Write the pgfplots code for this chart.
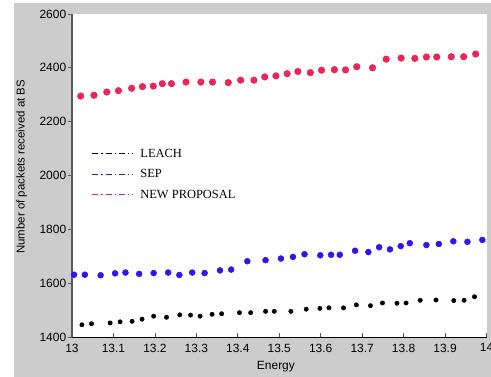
\documentclass[border=0pt]{standalone}
\usepackage{pgfplots}
\pgfplotsset{compat=1.18}
\usepackage{fontspec}
\setmainfont{Liberation Sans}
\newfontfamily\legendfont{Liberation Serif}
\definecolor{figgray}{RGB}{204,204,204}
\definecolor{redc}{RGB}{250,35,75}
\definecolor{bluec}{RGB}{55,15,240}
\definecolor{axgray}{RGB}{90,90,90}

\pgfplotstableread{
x y
13.021 2295
13.053 2298
13.084 2310
13.112 2315
13.144 2324
13.170 2330
13.196 2332
13.218 2341
13.240 2341
13.275 2347
13.311 2347
13.339 2347
13.377 2345
13.407 2354
13.439 2354
13.465 2366
13.492 2370
13.519 2378
13.545 2386
13.575 2382
13.602 2391
13.633 2393
13.660 2392
13.687 2404
13.725 2400
13.758 2432
13.794 2436
13.827 2435
13.855 2440
13.880 2440
13.915 2441
13.945 2441
13.974 2451
}\newprop

\pgfplotstableread{
x y
13.005 1632
13.031 1632
13.069 1630
13.104 1637
13.129 1640
13.162 1635
13.197 1638
13.232 1640
13.259 1631
13.290 1640
13.320 1638
13.357 1648
13.384 1651
13.423 1682
13.467 1686
13.504 1692
13.533 1698
13.561 1708
13.599 1704
13.625 1706
13.646 1706
13.683 1721
13.715 1716
13.741 1734
13.767 1726
13.793 1738
13.815 1749
13.855 1742
13.885 1746
13.920 1756
13.954 1754
13.990 1761
}\sep

\pgfplotstableread{
x y
13.024 1446
13.047 1450
13.092 1453
13.116 1457
13.145 1459
13.169 1467
13.197 1478
13.228 1474
13.260 1483
13.286 1482
13.309 1478
13.338 1485
13.361 1487
13.404 1491
13.431 1491
13.467 1496
13.488 1496
13.528 1496
13.565 1504
13.598 1507
13.620 1509
13.655 1509
13.686 1520
13.720 1517
13.749 1527
13.784 1526
13.806 1527
13.840 1537
13.878 1538
13.921 1536
13.946 1537
13.971 1550
}\leach

\begin{document}
\begin{tikzpicture}
\useasboundingbox (-72bp,-39.8bp) rectangle (419bp,337.2bp);
\clip (-72bp,-39.8bp) rectangle (419bp,337.2bp);
\fill[white] (-72bp,-39.8bp) rectangle (419bp,337.2bp);
\fill[figgray] (-58bp,-39.8bp) rectangle (419bp,334.2bp);
\begin{axis}[
  at={(0,0)}, anchor=south west,
  width=414.5bp, height=323.3bp, scale only axis,
  xmin=13, xmax=14, ymin=1400, ymax=2600,
  xtick={13,13.1,13.2,13.3,13.4,13.5,13.6,13.7,13.8,13.9,14},
  ytick={1400,1600,1800,2000,2200,2400,2600},
  axis x line*=bottom, axis y line*=left,
  x axis line style={black, line width=0.9bp},
  y axis line style={axgray, line width=1.3bp},
  axis background/.style={fill=white},
  tick align=inside, major tick length=4bp,
  tick style={axgray, line width=0.7bp},
  ytick style={xshift=-4bp},
  tick label style={font=\fontsize{12}{14}\selectfont},
  yticklabel style={xshift=-2.3bp},
  xticklabel style={yshift=-3bp},
  /pgf/number format/assume math mode=true,
  /pgf/number format/1000 sep={},
  xlabel={Energy},
  xlabel style={at={(axis description cs:0.492,0)}, anchor=base, yshift=-32bp, font=\fontsize{12}{14}\selectfont},
  ylabel={Number of packets received at BS},
  ylabel style={at={(axis description cs:-0.1213,0.527)}, anchor=center, font=\fontsize{11.5}{14}\selectfont},
  legend image code/.code={\draw[#1] (0bp,0bp) -- (40bp,0bp);},
  legend cell align=left,
  legend style={draw=none, fill=none, inner sep=0pt,
    at={(axis description cs:0.048,0.504)}, anchor=west,
    font=\legendfont\fontsize{12.5}{14}\selectfont,
    row sep=6bp,
    /tikz/every odd column/.style={column sep=6bp},
    nodes={inner sep=1.5bp, text height=9bp, text depth=2.5bp}},
]
\addlegendimage{black, line width=0.8bp, dash pattern=on 6bp off 3bp on 1.2bp off 3bp}
\addlegendentry{LEACH}
\addlegendimage{bluec, line width=0.8bp, dash pattern=on 6bp off 3bp on 1.2bp off 3bp}
\addlegendentry{SEP}
\addlegendimage{redc, line width=0.8bp, dash pattern=on 6bp off 3bp on 1.2bp off 3bp}
\addlegendentry{NEW PROPOSAL}
\addplot[only marks, mark=*, mark size=2.2bp, mark options={fill=black, draw=black}, forget plot] table {\leach};
\addplot[only marks, mark=*, mark size=3bp, mark options={fill=bluec, draw=bluec}, forget plot] table {\sep};
\addplot[only marks, mark=*, mark size=3.3bp, mark options={fill=redc, draw=redc!80!blue}, forget plot] table {\newprop};
\end{axis}
\end{tikzpicture}
\end{document}
